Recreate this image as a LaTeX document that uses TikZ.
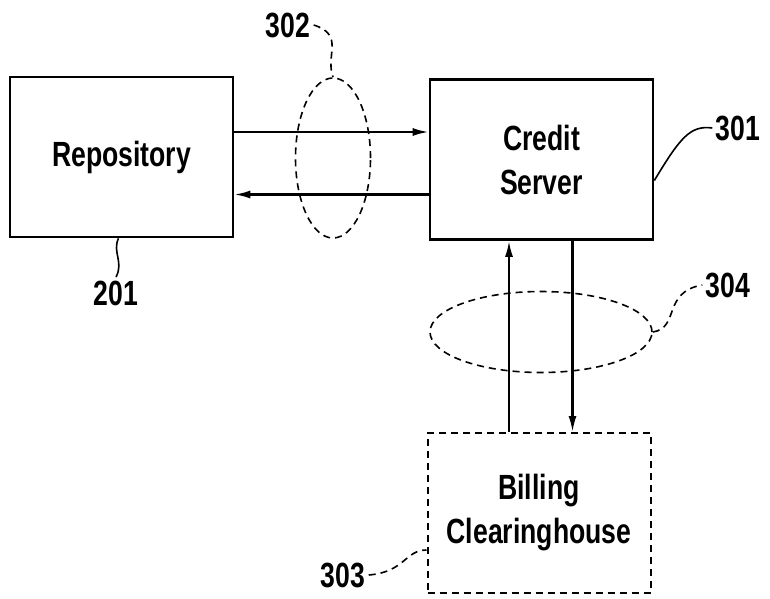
\documentclass[tikz,border=0pt]{standalone}
\usepackage{fontspec}
\setmainfont{Liberation Sans}[FakeStretch=0.76]
\usetikzlibrary{arrows.meta,shapes.geometric}

\begin{document}
\begin{tikzpicture}[x=1pt,y=-1pt,
  block/.style={draw=black,line width=2.6pt,minimum width=223pt,minimum height=160pt,align=center,font=\fontsize{35}{44}\bfseries\selectfont},
  flow/.style={-{Latex[length=16pt,width=8pt]},line width=2.2pt},
  group/.style={ellipse,draw=black,line width=1.6pt,dash pattern=on 7pt off 5pt},
  tag/.style={font=\fontsize{35}{40}\bfseries\selectfont},
  lead/.style={line width=1.6pt},
  leaddash/.style={lead,dash pattern=on 7pt off 5pt}]

% Fix the page size
\useasboundingbox (0,0) rectangle (770,598);

% Draw the blocks
\node[block] (repo) at (121.5,157) {Repository};
\node[block] (credit) at (541.5,159.5) {Credit\\Server};
\node[block,dash pattern=on 7pt off 5pt,line width=2pt] (billing) at (539,513) {Billing\\Clearinghouse};

% Draw the links
\draw[flow] ([yshift=25pt]repo.east) -- ([yshift=25pt]repo.east -| credit.west);
\draw[flow] ([yshift=-35pt]credit.west) -- ([yshift=-35pt]credit.west -| repo.east);
\draw[flow] ([xshift=-30pt]billing.north) -- ([xshift=-30pt]billing.north |- credit.south);
\draw[flow] ([xshift=31pt]credit.south) -- ([xshift=31pt]credit.south |- billing.north);

% Draw the groups
\node[group,minimum width=75pt,minimum height=160pt] (grpA) at (333,158) {};
\node[group,minimum width=222pt,minimum height=81pt] (grpB) at (541,332) {};

% Draw and label the references
\node[tag] (n302) at (288,25) {302};
\node[tag] (n201) at (116,293) {201};
\node[tag] (n301) at (738,128) {301};
\node[tag] (n304) at (728,285) {304};
\node[tag] (n303) at (343,575) {303};

\draw[leaddash] (n302.east) .. controls (345,35) and (325,55) .. (grpA.north);
\draw[lead] ([xshift=-3pt]repo.south) .. controls (112,252) and (124,262) .. (n201.north);
\draw[lead] ([yshift=-21pt]credit.east) .. controls (680,138) and (690,125) .. (n301.west);
\draw[leaddash] (grpB.east) .. controls (680,328) and (662,292) .. (n304.west);
\draw[leaddash] (n303.east) .. controls (405,572) and (405,550) .. ([yshift=-37pt]billing.west);

\end{tikzpicture}
\end{document}
